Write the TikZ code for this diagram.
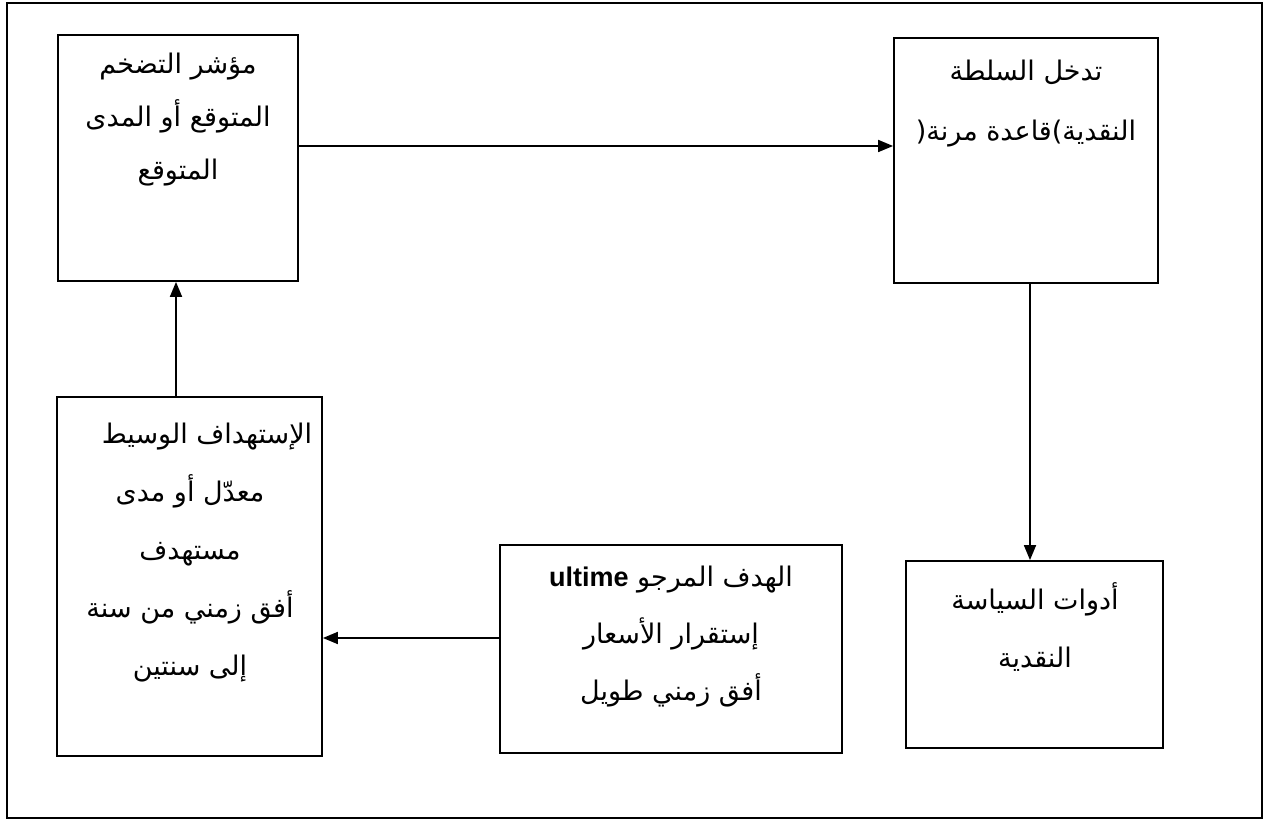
\documentclass[tikz,border=0pt]{standalone}
\usepackage{fontspec}
\TeXXeTstate=1
\newfontfamily\arabicfont[Script=Arabic]{DejaVu Sans}
\newfontfamily\latinfont{Liberation Sans}
\usetikzlibrary{arrows.meta,fit}
\newcommand{\ar}[1]{\beginR #1\endR}
\begin{document}
\begin{tikzpicture}[x=0.5pt,y=-0.5pt,
  box/.style={draw, line width=0.9pt, inner sep=0pt},
  frm/.style={draw, line width=1.2pt, inner sep=0pt},
  txt/.style={font=\arabicfont\fontsize{13.5}{#1}\selectfont, align=center, inner sep=0pt, anchor=north},
  txt/.default=29pt,
  arr/.style={line width=0.9pt, -{Triangle[length=7.5pt,width=6pt]}}]
\useasboundingbox (0,0) rectangle (1266,823);
\node[frm, fit={(7,3) (1262,818)}] (frame) {};
\node[box, fit={(58,35) (298,281)}] (A) {};
\node[box, fit={(894,38) (1158,283)}] (B) {};
\node[box, fit={(57,397) (322,756)}] (C) {};
\node[box, fit={(500,545) (842,753)}] (D) {};
\node[box, fit={(906,561) (1163,748)}] (E) {};
\node[txt=26.5pt] (At) at (178,53) {\ar{مؤشر التضخم}\\ \ar{المتوقع أو المدى}\\ \ar{المتوقع}};
\node[txt=30pt] (Bt) at (1026,60) {\ar{تدخل السلطة}\\ (\ar{مرنة} \ar{قاعدة})\ar{النقدية}};
\node[txt] (Ct) at (190,423) {\hspace*{17pt}\ar{الإستهداف الوسيط}\\ \ar{معدّل أو مدى}\\ \ar{مستهدف}\\ \ar{أفق زمني من سنة}\\ \ar{إلى سنتين}};
\node[txt=28.5pt] (Dt) at (671,566) {\ar{الهدف المرجو \beginL{\latinfont\bfseries ultime}\endL}\\ \ar{إستقرار الأسعار}\\ \ar{أفق زمني طويل}};
\node[txt] (Et) at (1035,582) {\ar{أدوات السياسة}\\ \ar{النقدية}};
\draw[arr] (A.east |- 0,146) -- (B.west |- 0,146);
\draw[arr] (C.north -| 176,0) -- (A.south -| 176,0);
\draw[arr] (B.south -| 1030,0) -- (E.north -| 1030,0);
\draw[arr] (D.west |- 0,638) -- (C.east |- 0,638);
\end{tikzpicture}
\end{document}
